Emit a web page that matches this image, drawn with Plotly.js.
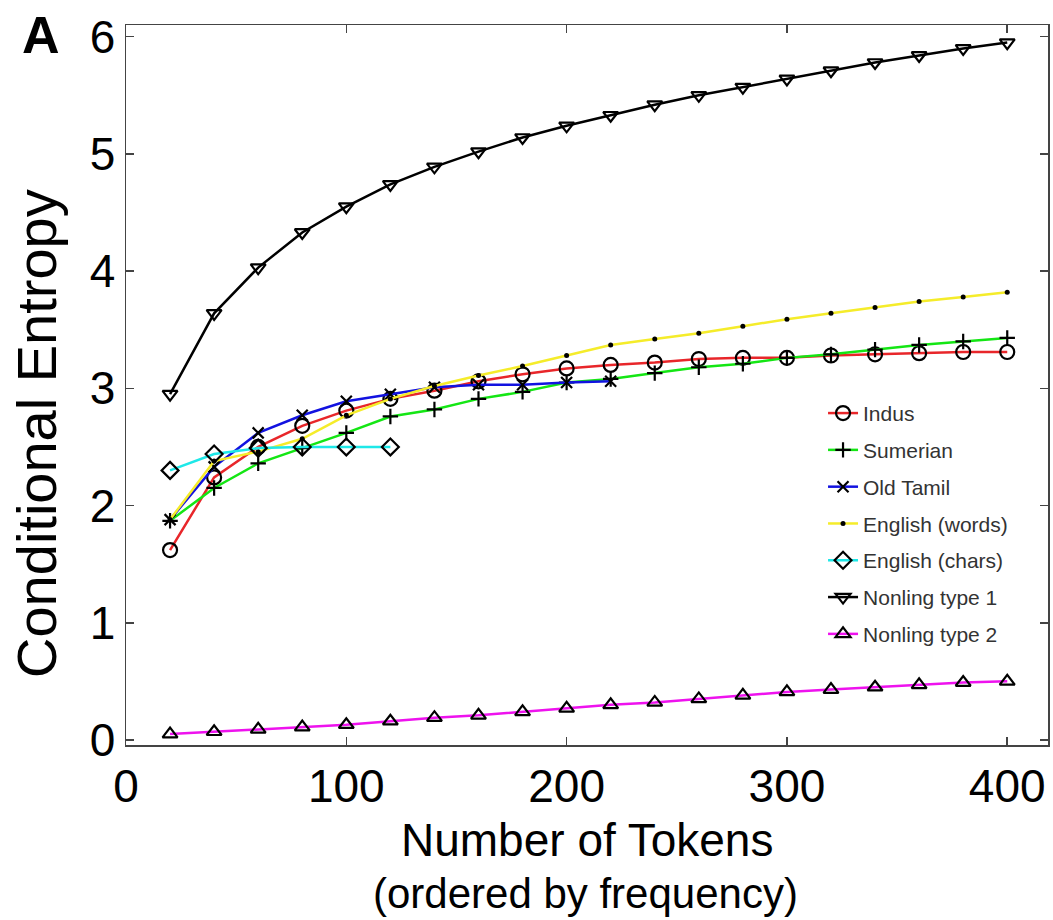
<!DOCTYPE html>
<html>
<head>
<meta charset="utf-8">
<script src="https://cdn.plot.ly/plotly-3.0.1.min.js"></script>
<style>html,body{margin:0;padding:0;background:#fff;}#chart{width:1053px;height:920px;}</style>
</head>
<body>
<div id="chart"></div>
<script>
// Number of tokens (x)
var tokens = [20,40,60,80,100,120,140,160,180,200,220,240,260,280,300,320,340,360,380,400];
var tokensShortTamil = [20,40,60,80,100,120,140,160,180,200,220];
var tokensShortChars = [20,40,60,80,100,120];

// Conditional entropy series
var indus        = [1.62,2.24,2.50,2.68,2.81,2.91,2.98,3.06,3.12,3.17,3.20,3.22,3.25,3.26,3.26,3.28,3.29,3.30,3.31,3.31];
var sumerian     = [1.87,2.15,2.36,2.49,2.62,2.76,2.82,2.91,2.97,3.05,3.08,3.13,3.18,3.21,3.26,3.29,3.33,3.37,3.40,3.43];
var oldTamil     = [1.88,2.33,2.62,2.77,2.89,2.95,3.01,3.03,3.03,3.05,3.06];
var englishWords = [1.88,2.38,2.46,2.57,2.77,2.91,3.02,3.11,3.19,3.28,3.37,3.42,3.47,3.53,3.59,3.64,3.69,3.74,3.78,3.82];
var englishChars = [2.30,2.44,2.49,2.50,2.50,2.50];
var nonling1     = [2.95,3.64,4.03,4.33,4.55,4.74,4.89,5.02,5.14,5.24,5.33,5.42,5.50,5.57,5.64,5.71,5.78,5.84,5.90,5.95];
var nonling2     = [0.05,0.07,0.09,0.11,0.13,0.16,0.19,0.21,0.24,0.27,0.30,0.32,0.35,0.38,0.41,0.43,0.45,0.47,0.49,0.50];

var seriesNames = ["Indus","Sumerian","Old Tamil","English (words)","English (chars)","Nonling type 1","Nonling type 2"];
var xTicks = [0,100,200,300,400];
var yTicks = [0,1,2,3,4,5,6];

var FONT = "Liberation Sans, Arial, Helvetica, sans-serif";

function tr(name, x, y, color, symbol, size, filled) {
  return {
    type: "scatter", mode: "lines+markers", name: name, x: x, y: y,
    legendgroup: name,
    line: {color: color, width: 2.5},
    marker: filled ? {symbol: symbol, size: size, color: "#000"} :
      {symbol: symbol, size: size, color: "#000", line: {color: "#000", width: 2.2}}
  };
}

var data = [
  tr(seriesNames[0], tokens, indus, "#e8262a", "circle-open", 14),
  tr(seriesNames[1], tokens, sumerian, "#14e614", "cross-thin-open", 11),
  tr(seriesNames[2], tokensShortTamil, oldTamil, "#1212e0", "x-thin-open", 11),
  tr(seriesNames[3], tokens, englishWords, "#f5ec2a", "circle", 5, true),
  tr(seriesNames[4], tokensShortChars, englishChars, "#1ee8e8", "diamond-open", 13),
  tr(seriesNames[5], tokens, nonling1, "#000000", "triangle-down-open", 13),
  tr(seriesNames[6], tokens, nonling2, "#ee12ee", "triangle-up-open", 13)
];

var axisCommon = {
  showgrid: false, zeroline: false, showline: true, linecolor: "#444", linewidth: 1.5,
  mirror: "ticks", ticks: "inside", ticklen: 8, tickwidth: 1.5, tickcolor: "#444",
  tickfont: {family: FONT, size: 46, color: "#000"}, tickmode: "array"
};

var layout = {
  width: 1053, height: 920,
  margin: {l: 126, r: 5, t: 25, b: 175},
  paper_bgcolor: "#fff", plot_bgcolor: "#fff",
  xaxis: Object.assign({}, axisCommon, {range: [0, 418.5], tickvals: xTicks, ticktext: xTicks.map(String)}),
  yaxis: Object.assign({}, axisCommon, {range: [-0.043, 6.10], tickvals: yTicks, ticktext: yTicks.map(String)}),
  showlegend: true,
  legend: {
    x: 0.756, y: 0.489, xanchor: "left", yanchor: "top",
    bgcolor: "rgba(255,255,255,0)", borderwidth: 0,
    font: {family: FONT, size: 21, color: "#333"},
    traceorder: "grouped", tracegroupgap: 6.5
  },
  annotations: [
    {text: "Conditional Entropy", xref: "paper", yref: "paper", x: -0.0965, y: 0.432,
     xanchor: "center", yanchor: "middle", textangle: -90, showarrow: false,
     font: {family: FONT, size: 56, color: "#000"}},
    {text: "Number of Tokens", xref: "paper", yref: "paper", x: 0.5005, y: -0.132,
     xanchor: "center", yanchor: "middle", showarrow: false,
     font: {family: FONT, size: 46, color: "#000"}},
    {text: "(ordered by frequency)", xref: "paper", yref: "paper", x: 0.4985, y: -0.2056,
     xanchor: "center", yanchor: "middle", showarrow: false,
     font: {family: FONT, size: 42, color: "#000"}},
    {text: "<b>A</b>", xref: "paper", yref: "paper", x: -0.092, y: 0.986,
     xanchor: "center", yanchor: "middle", showarrow: false,
     font: {family: FONT, size: 52, color: "#000"}}
  ]
};

Plotly.newPlot("chart", data, layout, {displayModeBar: false, staticPlot: true});
</script>
</body>
</html>
